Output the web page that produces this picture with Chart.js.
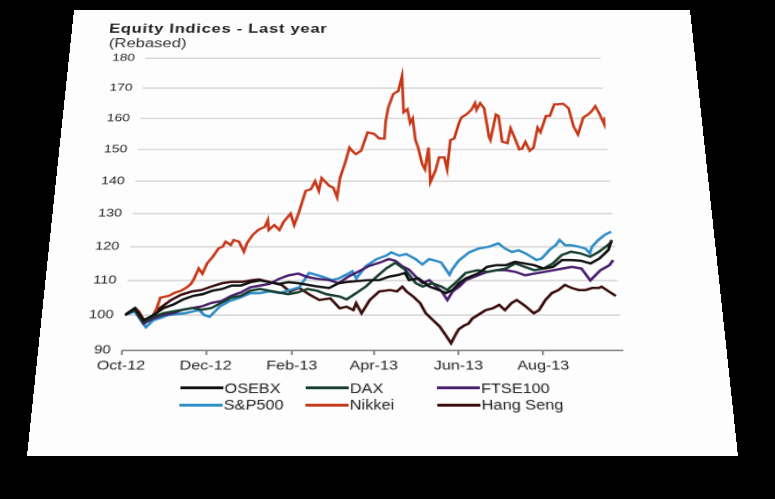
<!DOCTYPE html>
<html>
<head>
<meta charset="utf-8">
<script src="https://cdn.jsdelivr.net/npm/chart.js@4.4.0/dist/chart.umd.min.js"></script>
<style>
  html, body { margin: 0; padding: 0; background: #000; width: 775px; height: 499px; overflow: hidden; }
  #card { position: absolute; left: 0; top: 0; width: 600px; height: 514px; background: #fdfdfd;
          transform-origin: 0 0; font-family: "Liberation Sans", Arial, sans-serif; }
  #title { position: absolute; left: 36px; top: 16px; font-size: 16px; line-height: 18px; font-weight: bold;
           letter-spacing: 0.7px; color: #222; z-index: 2; }
  #sub { position: absolute; left: 37px; top: 35px; font-size: 16px; line-height: 18px; color: #333; z-index: 2; }
  #wrap { position: absolute; left: 0; top: 40px; width: 520px; height: 400px; }
  .legline { position: absolute; width: 37px; height: 3px; }
  .legtext { position: absolute; font-size: 14px; line-height: 16px; color: #222; white-space: nowrap; }
</style>
</head>
<body>
<div id="card">
  <div id="title">Equity Indices - Last year</div>
  <div id="sub">(Rebased)</div>
  <div id="wrap"><canvas id="myChart"></canvas></div>
  <div id="legend"></div>
</div>
<script>
// x values are days since 1 Oct 2012
let tickDays = [0, 61, 123, 182, 243, 304];
let tickLabels = ['Oct-12', 'Dec-12', 'Feb-13', 'Apr-13', 'Jun-13', 'Aug-13'];

let names = ['OSEBX', 'DAX', 'FTSE100', 'S&P500', 'Nikkei', 'Hang Seng'];
let colors = ['#111111', '#173f30', '#4a1f6e', '#2e8cc6', '#c63818', '#3a0c0c'];

let osebxDays = [0, 7, 14, 21, 28, 35, 42, 49, 56, 63, 70, 77, 84, 91, 98, 105, 112, 119,
  126, 141, 149, 156, 163, 178, 186, 193, 200, 205, 208, 215, 223, 230, 235, 240, 245, 250,
  259, 266, 273, 280, 287, 294, 301, 308, 315, 322, 329, 336, 343, 350, 357, 360];
let osebx = [100, 102, 98.5, 100, 102, 103, 104.5, 105.5, 106, 107, 107.5, 108.5, 108.5, 109.5, 110, 109.5, 109, 109.5,
  109.2, 108.2, 107.8, 109.2, 109.6, 110.1, 110.1, 111.1, 111.6, 112.2, 110.1, 110.6, 108.2, 107.2, 106.3, 107.2, 109.2, 110.6,
  112, 114, 114.5, 114.5, 115.5, 115, 114.5, 113.5, 114, 116, 116, 115.8, 115, 116.5, 119, 122];

let daxDays = [0, 7, 14, 21, 28, 35, 42, 49, 56, 63, 70, 77, 84, 91, 98, 105, 112, 119, 126, 133, 140, 147,
  157, 162, 169, 176, 184, 191, 198, 205, 213, 218, 225, 232, 236, 242, 250,
  259, 266, 273, 280, 287, 294, 301, 308, 315, 322, 329, 336, 343, 350, 357, 360];
let dax = [100, 101.5, 98, 99.5, 100.5, 101, 101.5, 102, 101.5, 102, 103.5, 105, 105.5, 107, 107.5, 107, 106.5, 106, 106.5, 107.5, 107, 106,
  105.3, 104.5, 106.3, 108.2, 111.1, 113.5, 115.2, 113.2, 109.2, 108.2, 109.2, 108.2, 107.2, 109.2, 112.2,
  113, 112.5, 113, 113.5, 115, 114, 113, 113.5, 115, 117.5, 118.5, 118, 117, 118.5, 120.5, 121.5];

let ftseDays = [0, 7, 14, 21, 28, 35, 42, 49, 56, 63, 70, 77, 84, 91, 98, 105, 112, 119, 126, 133, 140,
  149, 156, 163, 171, 178, 186, 193, 198, 203, 208, 213, 218, 223, 228, 232, 236, 240, 245, 250,
  259, 266, 273, 280, 287, 294, 301, 308, 315, 322, 329, 336, 342, 350, 357, 360];
let ftse = [100, 101.5, 97.5, 99, 100, 100.5, 101.5, 102, 102.5, 103.5, 104, 105.5, 106.5, 108, 108.5, 109, 110.5, 111.5, 112, 111, 110.5,
  110.1, 109.2, 111.1, 112.7, 114.2, 115.2, 116.3, 115.8, 114.2, 113.2, 111.1, 109.2, 110.1, 108.2, 106.8, 104.3, 106.8, 108.2, 110.1,
  111.5, 112.5, 113, 113, 112.5, 111.5, 112, 112.5, 113, 113.5, 114, 113.5, 110, 113, 114.5, 116];

let spDays = [0, 7, 16, 21, 25, 32, 44, 54, 58, 62, 69, 76, 83, 91, 98, 105, 113, 120, 127, 134,
  144, 151, 156, 164, 166, 169, 176, 184, 191, 195, 201, 206, 213, 218, 223, 228, 232, 238, 240, 245,
  253, 260, 268, 275, 280, 285, 290, 295, 299, 303, 307, 313, 318, 321, 325, 330, 335, 340, 343, 345,
  350, 355, 360];
let sp500 = [100, 101, 96.5, 98.5, 99, 100, 100.5, 101.4, 100, 99.5, 102.4, 104, 104.9, 106.3, 106.3, 106.8, 106.3, 107.2, 108, 112.2,
  111.1, 110.1, 110.6, 112.2, 112.7, 110.6, 114.2, 116.3, 117.3, 118.3, 117.3, 117.8, 116.3, 114.7, 116.3, 115.8, 115.3, 111.7, 113.2, 115.8,
  118.3, 119.4, 120, 121, 119.4, 118.4, 118.9, 118, 117, 116, 116.5, 119, 120.5, 122, 120.4, 120.4, 120, 119.4, 118, 120,
  122, 123.5, 124.5];

let nikkeiDays = [0, 7, 10, 15, 19, 23, 25, 31, 36, 40, 44, 47, 49, 52, 55, 58, 62, 66, 69, 71,
  75, 77, 81, 85, 87, 91, 95, 100, 102, 103, 107, 111, 114, 119, 122, 125, 130, 134, 137, 140,
  142, 148, 151, 154, 156, 160, 163, 165, 168, 172, 177, 182, 186, 190, 191, 193, 197, 201, 204, 205,
  208, 210, 212, 214, 216, 219, 221, 224, 225, 229, 232, 236, 238, 241, 244, 248, 250, 254, 258, 261,
  262, 265, 268, 271, 272, 277, 279, 281, 285, 288, 291, 294, 296, 299, 302, 305, 309, 311, 316, 319,
  323, 326, 330, 334, 337, 340, 345, 349, 352, 355, 358, 361, 362];
let nikkei = [100, 102, 101, 98, 98.5, 102, 105, 105.5, 106.5, 107, 108, 109, 110.5, 113.5, 112, 115, 117, 119.5, 120, 121.5,
  120.5, 122, 121.5, 118.5, 121, 123.5, 125, 126, 128, 125, 126.5, 125, 127.5, 130, 126.5, 130, 137, 137.5, 140, 137,
  141, 138.5, 138, 135, 141, 146, 150.6, 149.6, 148.5, 149.6, 155.5, 155, 153.5, 153.5, 159, 163.5, 168, 169, 174, 162,
  163, 158.5, 160, 153, 150.6, 145.3, 143.7, 150.6, 139.7, 143.3, 147.5, 147.5, 143.7, 153, 153.5, 158.5, 160.3, 161.3, 162.8, 165,
  162.8, 165, 163.3, 154, 153, 161.3, 160.8, 152.5, 152, 156.8, 153.5, 150, 150.2, 152.4, 149.6, 150.6, 157, 155.5, 160.8, 160.8,
  164.6, 164.6, 164.8, 163.3, 157.4, 154.8, 160.3, 161.3, 162.4, 164, 161.3, 158, 160.5];

let hsDays = [0, 7, 16, 21, 25, 33, 40, 48, 55, 62, 70, 77, 85, 92, 97, 104, 114, 120, 127, 135,
  142, 150, 157, 162, 167, 169, 173, 179, 186, 194, 199, 203, 206, 211, 216, 220, 225, 230, 234, 238,
  242, 244, 248, 251, 254, 264, 269, 274, 278, 283, 287, 292, 295, 299, 303, 308, 313, 318, 323, 328,
  333, 338, 343, 348, 350, 355, 360];
let hangseng = [100, 101.5, 98, 100, 101.9, 104.3, 105.8, 106.8, 107.2, 108.2, 109.2, 109.6, 109.6, 110.1, 110.3, 109.6, 108.7, 106.8, 107.8, 105.8,
  104.3, 104.8, 101.9, 102.4, 101.4, 103.4, 100.5, 104.3, 106.8, 107.2, 106.8, 108.2, 106.8, 105.3, 103.4, 100.5, 98.6, 96.7, 94.4, 92,
  94.8, 96, 97, 97.5, 99, 101.4, 101.9, 102.9, 101.4, 103.4, 104.3, 102.9, 101.9, 100.5, 101.4, 104.3, 106.3, 107.2, 108.7, 107.8,
  107.2, 107.2, 107.8, 107.8, 108.2, 106.8, 105.5];

let seriesX = [osebxDays, daxDays, ftseDays, spDays, nikkeiDays, hsDays];
let seriesY = [osebx, dax, ftse, sp500, nikkei, hangseng];

// solve the 8x8 system for the card's perspective (rectangle -> photographed quad)
function solve(A, b) {
  let n = b.length;
  for (let i = 0; i < n; i++) A[i].push(b[i]);
  for (let c = 0; c < n; c++) {
    let p = c;
    for (let r = c + 1; r < n; r++) if (Math.abs(A[r][c]) > Math.abs(A[p][c])) p = r;
    [A[c], A[p]] = [A[p], A[c]];
    for (let r = 0; r < n; r++) {
      if (r === c) continue;
      let f = A[r][c] / A[c][c];
      for (let k = c; k <= n; k++) A[r][k] -= f * A[c][k];
    }
  }
  return A.map((row, i) => row[n] / row[i]);
}

function quadTransform(w, h, quad) {
  let src = [[0, 0], [w, 0], [w, h], [0, h]];
  let A = [], b = [];
  for (let i = 0; i < 4; i++) {
    let [x, y] = src[i], [X, Y] = quad[i];
    A.push([x, y, 1, 0, 0, 0, -X * x, -X * y]); b.push(X);
    A.push([0, 0, 0, x, y, 1, -Y * x, -Y * y]); b.push(Y);
  }
  let m = solve(A, b);
  return 'matrix3d(' + [m[0], m[3], 0, m[6], m[1], m[4], 0, m[7], 0, 0, 1, 0, m[2], m[5], 0, 1].join(',') + ')';
}

document.getElementById('card').style.transform =
  quadTransform(600, 514, [[74, 10], [690, 10], [738, 456], [27, 456]]);

// legend, 3 columns x 2 rows
let legend = document.getElementById('legend');
let colX = [126, 234, 347];
let rowY = [444.6, 462.2];
names.forEach(function (name, i) {
  let x = colX[i % 3], y = rowY[Math.floor(i / 3)];
  let line = document.createElement('div');
  line.className = 'legline';
  line.style.left = x + 'px';
  line.style.top = (y - 1.5) + 'px';
  line.style.background = colors[i];
  legend.appendChild(line);
  let txt = document.createElement('div');
  txt.className = 'legtext';
  txt.style.left = (x + 38) + 'px';
  txt.style.top = (y - 8) + 'px';
  txt.textContent = name;
  legend.appendChild(txt);
});

let myChart = document.getElementById('myChart').getContext('2d');
let chart = new Chart(myChart, {
  type: 'line',
  data: {
    datasets: names.map(function (name, i) {
      return {
        label: name,
        data: seriesX[i].map((d, j) => ({ x: d, y: seriesY[i][j] })),
        borderColor: colors[i],
        backgroundColor: colors[i],
        borderWidth: 2.6,
        pointRadius: 0,
        tension: 0,
        fill: false,
      };
    }),
  },
  options: {
    responsive: true,
    maintainAspectRatio: false,
    animation: false,
    devicePixelRatio: 2,
    layout: { padding: { top: 23, right: 10.6, left: 0, bottom: 0 } },
    plugins: { legend: { display: false }, tooltip: { enabled: false } },
    scales: {
      x: {
        type: 'linear',
        min: 0,
        max: 362,
        afterBuildTicks: (s) => { s.ticks = tickDays.map((v) => ({ value: v })); },
        afterFit: (s) => { s.height = 35; },
        ticks: {
          callback: (v, i) => tickLabels[i],
          font: { size: 14, family: 'Liberation Sans' },
          color: '#222',
          padding: 3,
          maxRotation: 0,
          autoSkip: false,
        },
        grid: { drawOnChartArea: false, drawTicks: true, tickLength: 5, color: '#777', lineWidth: 1.5 },
        border: { display: true, color: '#777', width: 1.5 },
      },
      y: {
        min: 90,
        max: 180,
        afterFit: (s) => { s.width = 73.2; },
        ticks: { stepSize: 10, font: { size: 13, family: 'Liberation Sans' }, color: '#222', padding: 10 },
        grid: { color: '#c9c9c9', lineWidth: 1.2, drawTicks: false },
        border: { display: false },
      },
    },
  },
});
</script>
</body>
</html>
